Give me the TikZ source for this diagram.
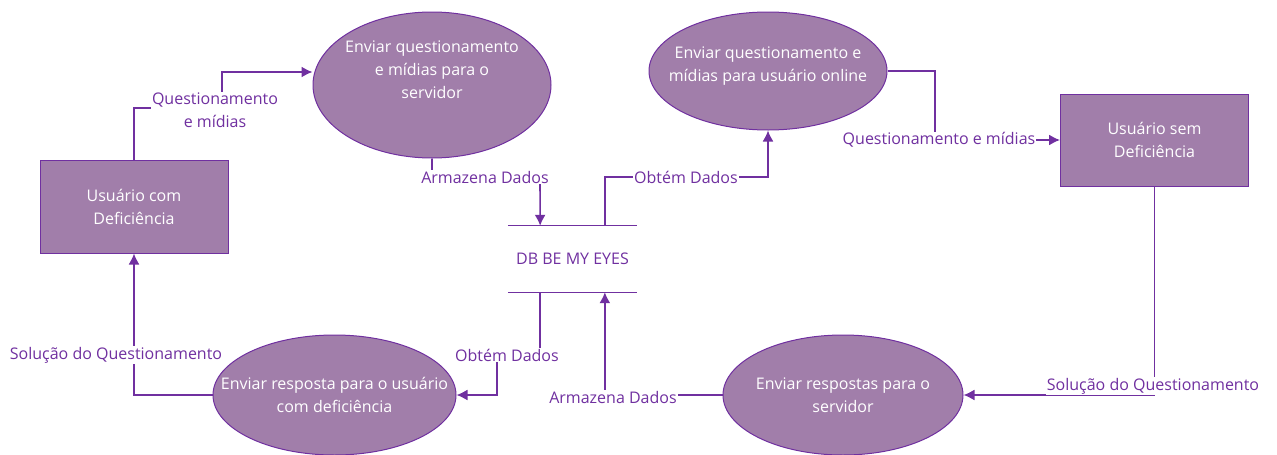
\documentclass[tikz,border=0pt]{standalone}
\usepackage{fontspec}
\setmainfont{Open Sans}
\usepackage{tikz}
\usetikzlibrary{shapes.geometric, arrows.meta, calc}

\definecolor{roxo}{RGB}{112,48,160}
\definecolor{lilas}{RGB}{161,126,170}

\begin{document}
\begin{tikzpicture}[x=1pt, y=-1pt, > = {Latex[length=11pt,width=11pt]},
       font=\fontsize{16}{23}\selectfont]

\tikzstyle{proc} = [ellipse, draw=roxo, fill=lilas, line width=1pt, inner sep=0pt,
                    minimum width=238pt, minimum height=120pt]
\tikzstyle{ptxt} = [text=white, align=center, inner sep=0pt]
\tikzstyle{ent}  = [rectangle, draw=roxo, fill=lilas, line width=1pt, text=white,
                    align=center, minimum width=188pt, minimum height=93pt]
\tikzstyle{flow} = [draw=roxo, line width=1.6pt]
\tikzstyle{lbl}  = [fill=white, text=roxo, align=center, inner sep=1pt]

\useasboundingbox (0,0) rectangle (1277,455);

    % external entities
    \node[ent] (U-1) at (134,206.5) {Usuário com\\Deficiência};
    \node[ent, minimum height=92pt] (U-2) at (1154.5,140) {Usuário sem\\Deficiência};

    % processes
    \node[proc, minimum height=146pt, label={[ptxt, yshift=15pt]center:Enviar questionamento\\e mídias para o\\servidor}]
          (P-1) at (432,85) {};
    \node[proc, minimum height=118pt, label={[ptxt, yshift=5pt]center:Enviar questionamento e\\mídias para usuário online}]
          (P-2) at (768,71) {};
    \node[proc, minimum width=243pt, label={[ptxt]center:Enviar resposta para o usuário\\com deficiência}]
          (P-3) at (334.5,395) {};
    \node[proc, minimum width=240pt, label={[ptxt]center:Enviar respostas para o\\servidor}]
          (P-4) at (843,395) {};

    % data store
    \node[text=roxo, minimum width=129pt, minimum height=66pt] (db) at (572.5,259) {DB BE MY EYES};
    \draw[draw=roxo, line width=1.2pt] (db.north west) -- (db.north east);
    \draw[draw=roxo, line width=1.2pt] (db.south west) -- (db.south east);

    % data flows
    \draw[flow, ->] (U-1.north) |- (222,108) -- (222,72) -- (P-1.west |- 0,72);
    \draw[flow, ->] (P-1.south) |- (540,177) -- ($(db.north west)!.25!(db.north east)$);
    \draw[flow, ->] ($(db.north west)!.75!(db.north east)$) |- (768,177) -- (P-2.south);
    \draw[flow, ->] (P-2.east) -| (935,140) -- (U-2.west);
    \draw[flow, ->] (U-2.south) |- (P-4.east);
    \draw[flow, ->] (P-4.west) -| ($(db.south west)!.75!(db.south east)$);
    \draw[flow, ->] ($(db.south west)!.25!(db.south east)$) |- (497,355) |- (P-3.east);
    \draw[flow, ->] (P-3.west) -| (U-1.south);

    % flow labels
    \node[lbl] (L-1) at (215,110) {Questionamento\\e mídias};
    \node[lbl] (L-2) at (485,177) {Armazena Dados};
    \node[lbl] (L-3) at (686,177) {Obtém Dados};
    \node[lbl] (L-4) at (939,140) {Questionamento e mídias};
    \node[lbl] (L-5) at (1153,386) {Solução do Questionamento};
    \node[lbl] (L-6) at (613,397) {Armazena Dados};
    \node[lbl] (L-7) at (507,355) {Obtém Dados};
    \node[lbl] (L-8) at (116,355) {Solução do Questionamento};

\end{tikzpicture}
\end{document}
